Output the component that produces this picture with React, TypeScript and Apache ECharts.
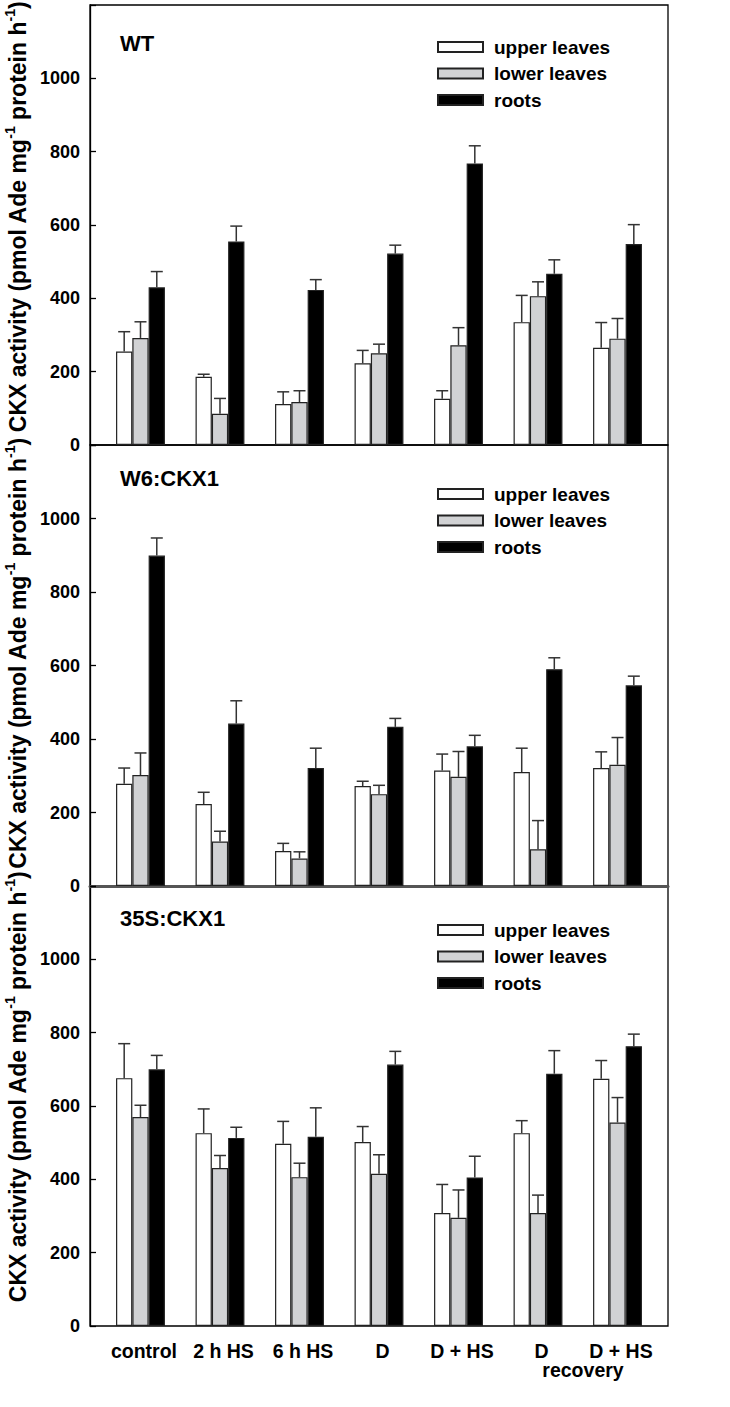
import React, { useEffect, useRef } from "react";
import * as echarts from "echarts";

// ---- data ----
const categories = ["control", "2 h HS", "6 h HS", "D", "D + HS", "D", "D + HS"];
const seriesNames = ["upper leaves", "lower leaves", "roots"];
const panelTitles = ["WT", "W6:CKX1", "35S:CKX1"];
const yTicks = [0, 200, 400, 600, 800, 1000];

const wtUpper = [255, 186, 112, 223, 126, 335, 265];
const wtUpperErr = [309, 193, 145, 258, 148, 408, 334];
const wtLower = [292, 85, 117, 250, 272, 406, 290];
const wtLowerErr = [336, 127, 148, 275, 320, 445, 345];
const wtRoots = [430, 555, 423, 522, 768, 467, 548];
const wtRootsErr = [473, 597, 451, 545, 816, 505, 601];

const w6Upper = [278, 223, 95, 272, 314, 310, 321];
const w6UpperErr = [321, 255, 116, 285, 359, 375, 365];
const w6Lower = [302, 121, 75, 250, 297, 100, 330];
const w6LowerErr = [362, 149, 93, 274, 366, 178, 404];
const w6Roots = [899, 442, 321, 433, 380, 590, 546];
const w6RootsErr = [947, 504, 375, 456, 410, 621, 571];

const s35Upper = [676, 526, 497, 502, 308, 526, 674];
const s35UpperErr = [770, 592, 558, 544, 386, 560, 724];
const s35Lower = [570, 431, 406, 415, 295, 308, 555];
const s35LowerErr = [602, 465, 444, 467, 371, 357, 623];
const s35Roots = [700, 513, 516, 713, 405, 688, 763];
const s35RootsErr = [738, 542, 595, 749, 463, 751, 796];

const panelValues = [
  [wtUpper, wtLower, wtRoots],
  [w6Upper, w6Lower, w6Roots],
  [s35Upper, s35Lower, s35Roots],
];
const panelErrs = [
  [wtUpperErr, wtLowerErr, wtRootsErr],
  [w6UpperErr, w6LowerErr, w6RootsErr],
  [s35UpperErr, s35LowerErr, s35RootsErr],
];

// ---- layout / style ----
const FONT = "'Liberation Sans', Arial, Helvetica, sans-serif";
const GRID_LEFT = 90;
const GRID_WIDTH = 578;
const panelTops = [5, 445, 886];
const panelHeights = [440, 441, 440];
const legendTops = [37, 484, 920];
const titleYs = [43, 478, 918];
const nameShiftPad = [16, 24, 38];
const BAR_W = 16.3;
const CAP_W = 12;
const fills = ["#ffffff", "#d1d2d4", "#000000"];

export default function App() {
  const ref = useRef<HTMLDivElement>(null);

  useEffect(() => {
    if (!ref.current) return;
    const chart = echarts.init(ref.current, null, { renderer: "svg" });

    const grids: any[] = [];
    const xAxes: any[] = [];
    const yAxes: any[] = [];
    const legends: any[] = [];
    const series: any[] = [];
    const graphics: any[] = [];

    panelTitles.forEach((title, p) => {
      grids.push({
        left: GRID_LEFT,
        width: GRID_WIDTH,
        top: panelTops[p],
        height: panelHeights[p],
        containLabel: false,
        outerBoundsMode: "none",
        show: true,
        borderColor: "#000",
        borderWidth: 1.3,
        backgroundColor: "transparent",
      });
      const isLast = p === panelTitles.length - 1;
      xAxes.push({
        type: "value",
        gridIndex: p,
        min: -0.635,
        max: 6.635,
        splitNumber: 8,
        splitLine: { show: false },
        axisTick: { show: false },
        axisLine:
          p === 1
            ? { show: true, onZero: false, lineStyle: { color: "#555", width: 3 } }
            : { show: false, onZero: false },
        axisLabel: {
          show: isLast,
          customValues: [0, 1, 2, 3, 4, 5, 6],
          formatter: (v: number) =>
            Math.abs(v - Math.round(v)) < 1e-6 && categories[Math.round(v)] !== undefined
              ? categories[Math.round(v)]
              : "",
          fontFamily: FONT,
          fontWeight: "bold",
          fontSize: 19.5,
          color: "#000",
          margin: 15,
          padding: [0, 0, 0, 7],
        },
      });
      yAxes.push({
        type: "value",
        gridIndex: p,
        min: 0,
        max: 1200,
        interval: 200,
        splitLine: { show: false },
        axisLine: { show: true, onZero: false, lineStyle: { color: "#000", width: 1.3 } },
        axisTick: { show: true, inside: true, length: 6, lineStyle: { color: "#000", width: 1.3 } },
        axisLabel: {
          formatter: (v: number) => (yTicks.indexOf(v) >= 0 ? String(v) : ""),
          fontFamily: FONT,
          fontWeight: "bold",
          fontSize: 18,
          color: "#000",
          margin: 10,
        },
        name: "{m|CKX activity (pmol Ade mg}{s|-1}{m| protein h}{s|-1}{m|)}",
        nameLocation: "middle",
        nameRotate: 90,
        nameGap: 54,
        nameTextStyle: {
          padding: [0, 0, 0, nameShiftPad[p]],
          rich: {
            m: { fontFamily: FONT, fontWeight: "bold", fontSize: 23, color: "#000", lineHeight: 30 },
            s: {
              fontFamily: FONT,
              fontWeight: "bold",
              fontSize: 14,
              color: "#000",
              lineHeight: 14,
              verticalAlign: "top",
            },
          },
        },
      });
      legends.push({
        data: seriesNames,
        orient: "vertical",
        left: 437,
        top: legendTops[p],
        padding: 0,
        itemWidth: 45,
        itemHeight: 10,
        itemGap: 6.5,
        icon: "rect",
        selectedMode: false,
        textStyle: {
          fontFamily: FONT,
          fontWeight: "bold",
          fontSize: 19,
          color: "#000",
          lineHeight: 20,
          padding: [0, 0, 0, 6],
        },
      });
      seriesNames.forEach((name, k) => {
        series.push({
          type: "bar",
          name,
          xAxisIndex: p,
          yAxisIndex: p,
          barWidth: BAR_W,
          barGap: "0%",
          data: panelValues[p][k].map((v, i) => [i, v]),
          itemStyle: { color: fills[k], borderColor: "#222", borderWidth: 1.2 },
          z: 2,
        });
      });
      const errData: number[][] = [];
      seriesNames.forEach((_, k) => {
        panelValues[p][k].forEach((v, i) => {
          errData.push([i, k, v, panelErrs[p][k][i]]);
        });
      });
      series.push({
        type: "custom",
        name: "err" + p,
        xAxisIndex: p,
        yAxisIndex: p,
        encode: { x: 0, y: 3 },
        z: 3,
        data: errData,
        renderItem: (_params: any, api: any) => {
          const i = api.value(0);
          const k = api.value(1);
          const v = api.value(2);
          const e = api.value(3);
          const p0 = api.coord([i, v]);
          const p1 = api.coord([i, e]);
          const x = p0[0] + (k - 1) * BAR_W;
          const st = { stroke: "#333", lineWidth: 1.5 };
          return {
            type: "group",
            children: [
              { type: "line", shape: { x1: x, y1: p0[1], x2: x, y2: p1[1] }, style: st },
              { type: "line", shape: { x1: x - CAP_W / 2, y1: p1[1], x2: x + CAP_W / 2, y2: p1[1] }, style: st },
            ],
          };
        },
      });
      graphics.push({
        type: "text",
        x: 120,
        y: titleYs[p],
        style: {
          text: title,
          fontFamily: FONT,
          fontWeight: "bold",
          fontSize: 22,
          fill: "#000",
          align: "left",
          verticalAlign: "middle",
          textAlign: "left",
          textVerticalAlign: "middle",
        },
      });
    });

    graphics.push({
      type: "text",
      x: 583,
      y: 1370,
      style: {
        text: "recovery",
        fontFamily: FONT,
        fontWeight: "bold",
        fontSize: 19.5,
        fill: "#000",
        align: "center",
        verticalAlign: "middle",
        textAlign: "center",
        textVerticalAlign: "middle",
      },
    });

    chart.setOption({
      animation: false,
      backgroundColor: "#fff",
      grid: grids,
      xAxis: xAxes,
      yAxis: yAxes,
      legend: legends,
      series,
      graphic: graphics,
    });

    return () => chart.dispose();
  }, []);

  return (
    <div
      ref={ref}
      style={{ position: "absolute", left: 0, top: 0, width: 730, height: 1407 }}
    />
  );
}
